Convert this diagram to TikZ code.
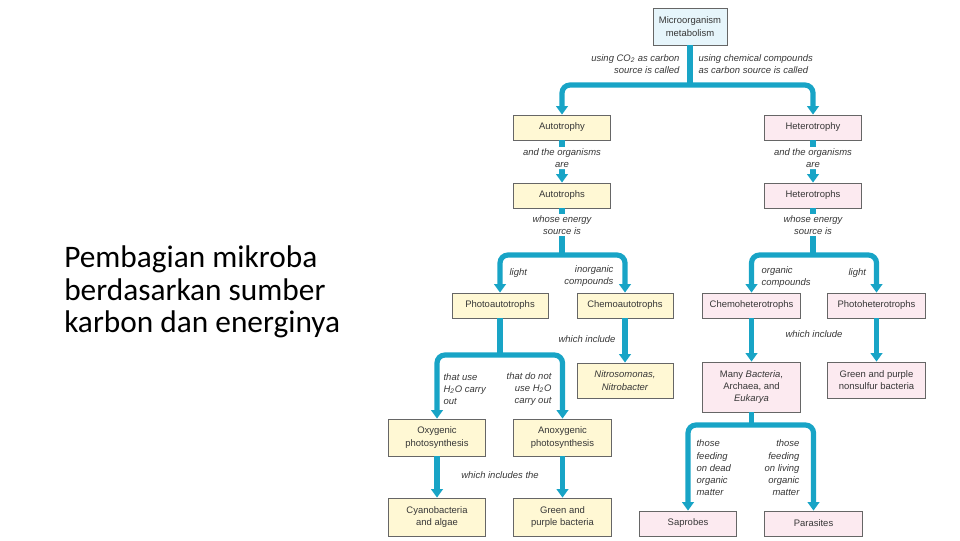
\documentclass[tikz,border=0pt]{standalone}
\usepackage{fontspec}
\setmainfont{Liberation Sans}
\newfontfamily\titlefont{Carlito}
\usetikzlibrary{arrows.meta}

\definecolor{flowteal}{RGB}{24,164,198}
\definecolor{autofill}{RGB}{255,248,212}
\definecolor{heterofill}{RGB}{252,234,240}
\definecolor{rootfill}{RGB}{230,245,251}
\definecolor{txtgray}{RGB}{55,55,55}

\tikzset{
  box/.style={draw=black!60, line width=0.6pt, text=txtgray, align=center, inner sep=1pt,
    font=\fontsize{7.1}{9.2}\selectfont, minimum width=73pt, minimum height=18.75pt},
  rootbox/.style={box, fill=rootfill},
  autobox/.style={box, fill=autofill},
  heterobox/.style={box, fill=heterofill},
  lab/.style={font=\fontsize{7.1}{9.2}\selectfont\itshape, text=txtgray, inner sep=1pt},
  stem/.style={draw=flowteal, line width=3.9pt},
  flow/.style={stem, rounded corners=6pt, -{Triangle[width=8.6pt,length=6.3pt]}},
  bar/.style={stem, rounded corners=6pt,
    {Triangle[width=8.6pt,length=6.3pt]}-{Triangle[width=8.6pt,length=6.3pt]}},
}

\begin{document}
\begin{tikzpicture}[x=0.75pt,y=-0.75pt]
\useasboundingbox (0,0) rectangle (960,540);

\node [font=\titlefont\fontsize{23.5}{24.4}\selectfont, align=left, anchor=west, inner sep=0pt] (title)  at (64,292) {Pembagian mikroba\\berdasarkan sumber\\karbon dan energinya};

% boxes
\node [rootbox, minimum width=55.5pt, minimum height=27.75pt] (meta)  at (690,26.5) {Microorganism\\metabolism};

\node [autobox] (autotrophy)  at (562,127.5) {Autotrophy};
\node [heterobox] (heterotrophy)  at (813,127.5) {Heterotrophy};

\node [autobox] (autotrophs)  at (562,195.5) {Autotrophs};
\node [heterobox] (heterotrophs)  at (813,195.5) {Heterotrophs};

\node [autobox, minimum width=72pt] (photoauto)  at (500,305.5) {Photoautotrophs};
\node [autobox, minimum width=72pt] (chemoauto)  at (625,305.5) {Chemoautotrophs};
\node [heterobox] (chemohet)  at (751.5,305.5) {Chemoheterotrophs};
\node [heterobox] (photohet)  at (876.5,305.5) {Photoheterotrophs};

\node [autobox, minimum height=27.75pt] (oxygenic)  at (437,437.5) {Oxygenic\\photosynthesis};
\node [autobox, minimum height=27.75pt] (anoxygenic)  at (562.5,437.5) {Anoxygenic\\photosynthesis};
\node [autobox, minimum width=72pt, minimum height=26.25pt] (nitro)  at (625,380.5) {\itshape Nitrosomonas,\\\itshape Nitrobacter};
\node [heterobox, minimum height=37.5pt] (manybact)  at (751.5,387) {Many \textit{Bacteria},\\Archaea, and\\\textit{Eukarya}};
\node [heterobox, minimum height=27pt] (nonsulfur)  at (876.5,380) {Green and purple\\nonsulfur bacteria};

\node [autobox, minimum height=28.5pt] (cyano)  at (437,517) {Cyanobacteria\\and algae};
\node [autobox, minimum height=28.5pt] (greenpurple)  at (562.5,517) {Green and\\purple bacteria};
\node [heterobox] (saprobes)  at (688,523.5) {Saprobes};
\node [heterobox] (parasites)  at (813.5,523.5) {Parasites};

% junctions
\coordinate (jmeta) at (690,85);
\coordinate (jauto) at (562,255);
\coordinate (jhetero) at (813,255);
\coordinate (jphoto) at (500,355);
\coordinate (jmany) at (751.5,425);

% connectors
\draw [stem] (meta.south) -- (jmeta);
\draw [bar] (autotrophy.north) |- (jmeta) -| (heterotrophy.north);
\node [lab, anchor=east, align=right] (carbonco)  at (681,64) {using CO\textsubscript{2} as carbon\\source is called};
\node [lab, anchor=west, align=left] (carbonchem)  at (697,64) {using chemical compounds\\as carbon source is called};

\draw [flow] (autotrophy.south) -- node [lab, fill=white, align=center, pos=0.42] {and the organisms\\are} (autotrophs.north);
\draw [flow] (heterotrophy.south) -- node [lab, fill=white, align=center, pos=0.42] {and the organisms\\are} (heterotrophs.north);

\draw [stem] (autotrophs.south) -- node [lab, fill=white, align=center, pos=0.36] {whose energy\\source is} (jauto);
\draw [stem] (heterotrophs.south) -- node [lab, fill=white, align=center, pos=0.36] {whose energy\\source is} (jhetero);

\draw [bar] (photoauto.north) |- (jauto) -| (chemoauto.north);
\draw [bar] (chemohet.north) |- (jhetero) -| (photohet.north);
\node [lab, anchor=west] (lightauto)  at (508,273) {light};
\node [lab, anchor=east, align=right] (inorg)  at (615,276) {inorganic\\compounds};
\node [lab, anchor=west, align=left] (org)  at (760,277) {organic\\compounds};
\node [lab, anchor=west] (lighthet)  at (847,273) {light};

\draw [stem] (photoauto.south) -- (jphoto);
\draw [bar] (oxygenic.north) |- (jphoto) -| (anoxygenic.north);
\node [lab, anchor=west, align=left] (usewater)  at (442,389) {that use\\H\textsubscript{2}O carry\\out};
\node [lab, anchor=east, align=right] (nowater)  at (553,389) {that do not\\use H\textsubscript{2}O\\carry out};

\draw [flow] (chemoauto.south) -- (nitro.north);
\node [lab] (inclauto)  at (587,339) {which include};

\draw [flow] (chemohet.south) -- (manybact.north);
\draw [flow] (photohet.south) -- (nonsulfur.north);
\node [lab] (inclhet)  at (814,334) {which include};

\draw [stem] (manybact.south) -- (jmany);
\draw [bar] (saprobes.north) |- (jmany) -| (parasites.north);
\node [lab, anchor=west, align=left] (dead)  at (695,468) {those\\feeding\\on dead\\organic\\matter};
\node [lab, anchor=east, align=right] (living)  at (801,468) {those\\feeding\\on living\\organic\\matter};

\draw [flow] (oxygenic.south) -- (cyano.north);
\draw [flow] (anoxygenic.south) -- (greenpurple.north);
\node [lab] (inclphoto)  at (500,475) {which includes the};

\end{tikzpicture}
\end{document}
